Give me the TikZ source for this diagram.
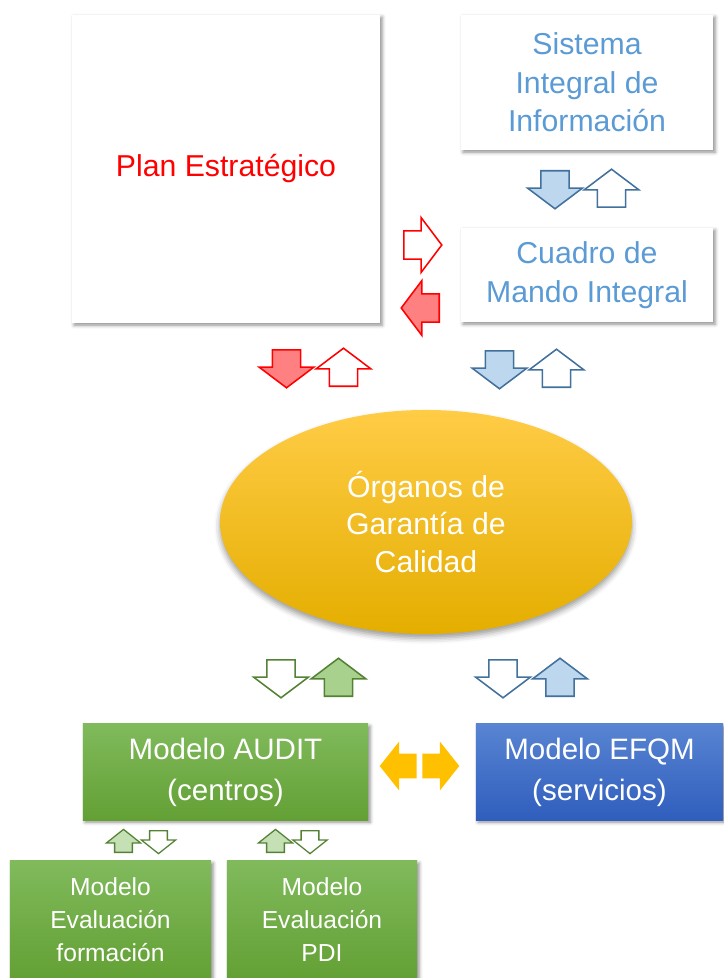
\documentclass[tikz,border=0pt]{standalone}
\usepackage{fontspec}
\setmainfont{Liberation Sans}
\usetikzlibrary{shapes.geometric,shapes.arrows,shadows.blur}

\definecolor{planred}{RGB}{255,0,0}
\definecolor{redfill}{RGB}{255,128,128}
\definecolor{sisblue}{RGB}{91,155,213}
\definecolor{arblue}{RGB}{65,113,156}
\definecolor{bluefill}{RGB}{189,215,238}
\definecolor{argreen}{RGB}{84,130,53}
\definecolor{greenfill}{RGB}{169,209,142}
\definecolor{greenpale}{RGB}{197,224,180}
\definecolor{gold}{RGB}{255,192,0}

\tikzset{
  boxshadow/.style={blur shadow={shadow xshift=1.5pt, shadow yshift=-1.5pt, shadow blur radius=2.5pt, shadow opacity=45}},
  whitebox/.style={rectangle, fill=white, boxshadow, align=center, text=sisblue,
    font=\fontsize{21.5}{27.5}\selectfont},
  greenbox/.style={rectangle, top color={rgb,255:red,128;green,186;blue,92},
    bottom color={rgb,255:red,99;green,160;blue,52}, boxshadow, align=center, text=white,
    font=\fontsize{21}{29}\selectfont},
  bluebox/.style={greenbox, top color={rgb,255:red,88;green,132;blue,210},
    bottom color={rgb,255:red,47;green,94;blue,189}},
  organo/.style={ellipse, minimum width=10.3cm, minimum height=5.6cm,
    top color={rgb,255:red,255;green,204;blue,70}, bottom color={rgb,255:red,228;green,174;blue,0},
    blur shadow={shadow xshift=0pt, shadow yshift=-3pt, shadow blur radius=4pt, shadow opacity=40},
    align=center, text=white, font=\fontsize{21.5}{26.7}\selectfont},
  blockarr/.style={single arrow, anchor=tail, inner xsep=0pt, line width=1.1pt, line join=miter},
  bigarr/.style={blockarr, inner ysep=0.333cm, minimum height=0.95cm, minimum width=1.33cm,
    single arrow head extend=0.33cm, single arrow tip angle=106},
  smallarr/.style={blockarr, line width=0.9pt, inner ysep=0.206cm, minimum height=0.575cm,
    minimum width=0.825cm, single arrow head extend=0.206cm, single arrow tip angle=103},
  goldarr/.style={single arrow, anchor=tail, inner xsep=0pt, inner ysep=0.3cm, fill=gold,
    minimum height=0.925cm, minimum width=1.2cm, single arrow head extend=0.3cm, single arrow tip angle=103},
  redfull/.style={draw=planred, fill=redfill},
  redopen/.style={draw=planred, fill=white},
  bluefull/.style={draw=arblue, fill=bluefill},
  blueopen/.style={draw=arblue, fill=white},
  greenfull/.style={draw=argreen, fill=greenfill},
  greenopen/.style={draw=argreen, fill=white},
}

\begin{document}
\begin{tikzpicture}[x=0.025cm, y=-0.025cm]
  \useasboundingbox (0,0) rectangle (723,978);

  % boxes
  \node[whitebox, minimum width=7.7cm, minimum height=7.7cm, text=planred] (plan) at (226,169) {Plan Estratégico};
  \node[whitebox, minimum width=6.3cm, minimum height=3.375cm] (sis) at (587,82.5) {Sistema\\Integral de\\Información};
  \node[whitebox, minimum width=6.3cm, minimum height=2.35cm] (cmi) at (587,275) {Cuadro de\\Mando Integral};
  \node[organo] (org) at (426,522) {Órganos de\\Garantía de\\Calidad};
  \node[greenbox, minimum width=7.125cm, minimum height=2.4cm] (audit) at (225.5,772) {Modelo AUDIT\\(centros)};
  \node[bluebox, minimum width=6.175cm, minimum height=2.4cm] (efqm) at (599.5,772) {Modelo EFQM\\(servicios)};
  \node[greenbox, font=\fontsize{17.5}{23.5}\selectfont, minimum width=5.025cm, minimum height=2.95cm] (evform) at (110.5,920) {Modelo\\Evaluación\\formación};
  \node[greenbox, font=\fontsize{17.5}{23.5}\selectfont, minimum width=4.75cm, minimum height=2.95cm] (evpdi) at (322,920) {Modelo\\Evaluación\\PDI};

  % sistema <-> cuadro
  \node[bigarr, bluefull, rotate=-90] (sisdn) at (555,170) {};
  \node[bigarr, blueopen, rotate=90] (sisup) at (611.5,208) {};

  % plan <-> cuadro
  \node[bigarr, redopen] (cmiin) at (403,245) {};
  \node[bigarr, redfull, rotate=180] (cmiout) at (440,308) {};

  % plan / cuadro <-> organos
  \node[bigarr, redfull, rotate=-90] (plandn) at (286.5,349) {};
  \node[bigarr, redopen, rotate=90] (planup) at (343.5,387) {};
  \node[bigarr, bluefull, rotate=-90] (cmidn) at (499.5,350) {};
  \node[bigarr, blueopen, rotate=90] (cmiup) at (556.5,388) {};

  % organos <-> modelos
  \node[bigarr, greenopen, rotate=-90] (auditdn) at (281,659) {};
  \node[bigarr, greenfull, rotate=90] (auditup) at (338.5,697) {};
  \node[bigarr, blueopen, rotate=-90] (efqmdn) at (503,659) {};
  \node[bigarr, bluefull, rotate=90] (efqmup) at (560,697) {};

  % audit <-> efqm
  \node[goldarr, rotate=180] (goldl) at (417,766) {};
  \node[goldarr] (goldr) at (422,766) {};

  % audit <-> evaluaciones
  \node[smallarr, draw=argreen, fill=greenpale, rotate=90] (formup) at (123.5,853) {};
  \node[smallarr, greenopen, rotate=-90] (formdn) at (158.5,830) {};
  \node[smallarr, draw=argreen, fill=greenpale, rotate=90] (pdiup) at (275.5,853) {};
  \node[smallarr, greenopen, rotate=-90] (pdidn) at (310,830) {};
\end{tikzpicture}
\end{document}
